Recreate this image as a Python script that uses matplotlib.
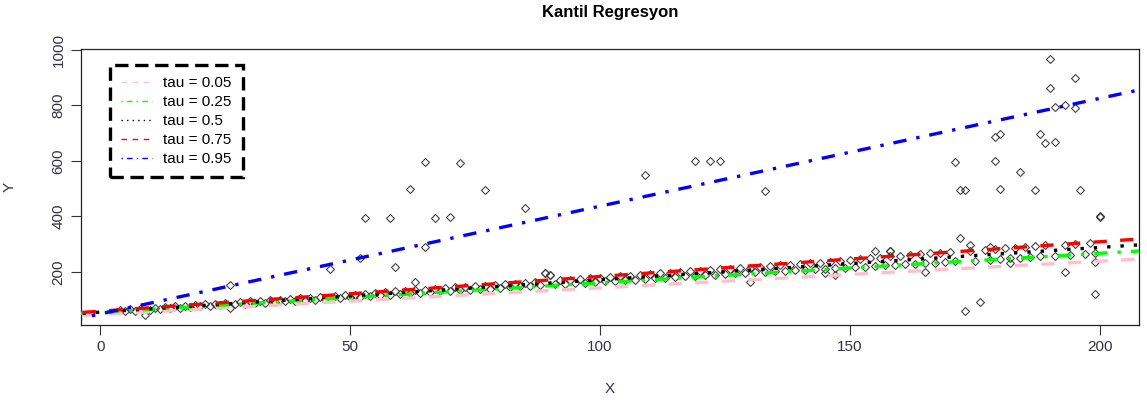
import matplotlib
matplotlib.use("Agg")
import matplotlib.pyplot as plt
from matplotlib.lines import Line2D
import numpy as np

plt.rcParams['font.family'] = ['Liberation Sans', 'DejaVu Sans']

# ---- data ----
band_x = [4, 5, 6, 7, 8, 10, 11, 12, 13, 14, 15, 16, 17, 18, 19, 20, 21, 22, 23, 24, 25,
          27, 28, 29, 30, 31, 32, 33, 34, 35, 36, 37, 38, 39, 40, 41, 42, 43, 44, 45,
          47, 48, 49, 50, 51, 52, 53, 54, 55, 56, 57, 58, 59, 60, 61, 62, 63, 64, 65,
          66, 67, 68, 69, 70, 71, 72, 73, 74, 75, 76, 77, 78, 79, 80, 81, 82, 83, 84,
          85, 86, 87, 88, 89, 90, 91, 92, 93, 94, 95, 96, 97, 98, 99, 100, 101, 102,
          103, 104, 105, 106, 107, 108, 109, 110, 111, 112, 113, 114, 115, 116, 117,
          118, 119, 120, 121, 122, 123, 124, 125, 126, 127, 128, 129, 130, 131, 132,
          133, 134, 135, 136, 137, 138, 139, 140, 141, 142, 143, 144, 145, 146, 147,
          148, 149, 150, 151, 152, 153, 154, 155, 156, 157, 158, 159, 160, 161, 162,
          163, 164, 165, 166, 167, 168, 169, 170, 171, 174, 175, 177, 178, 179, 180,
          181, 182, 183, 184, 185, 186, 187, 188, 189, 191, 193, 194, 195, 197, 198, 199]
band_y = [62, 58, 66, 61, 68, 64, 71, 66, 74, 69, 77, 70, 79, 73, 81, 76, 84, 78, 86, 80, 88,
          84, 92, 86, 94, 88, 97, 90, 99, 92, 101, 95, 104, 97, 106, 99, 108, 101, 111, 103,
          114, 106, 117, 109, 119, 111, 122, 113, 125, 116, 127, 118, 130, 120, 132, 123, 135, 125, 137,
          127, 140, 130, 142, 131, 145, 134, 146, 136, 149, 138, 151, 140, 153, 143, 156, 145, 158, 148,
          160, 150, 163, 152, 195, 190, 158, 170, 156, 172, 160, 175, 162, 177, 165, 180, 166, 182,
          168, 185, 172, 187, 173, 190, 176, 192, 178, 195, 180, 197, 182, 200, 185,
          203, 187, 205, 189, 207, 190, 210, 193, 212, 195, 214, 196, 216, 199, 219,
          201, 221, 203, 224, 205, 226, 207, 229, 209, 231, 210, 234, 212, 237, 214,
          239, 216, 243, 218, 246, 219, 249, 222, 252, 224, 256, 226, 259, 228, 262,
          230, 265, 231, 268, 233, 270, 236, 272, 238, 275, 241, 279, 244, 282, 246,
          285, 249, 288, 251, 290, 253, 293, 256, 296, 259, 298, 262, 301, 265, 303, 268]

out_x = [9, 26, 26, 46, 52, 53, 58, 59, 62, 63, 65, 65, 67, 70, 72, 77, 85, 89, 90,
         109, 119, 122, 124, 130, 133, 145, 147, 155, 158, 158, 165, 171, 172, 172, 173,
         173, 174, 176, 178, 179, 179, 180, 180, 182, 184, 187, 188, 189, 190, 190, 191,
         191, 193, 193, 195, 195, 196, 199, 199, 200, 200]
out_y = [46, 153, 71, 212, 250, 395, 395, 217, 499, 163, 596, 289, 395, 399, 593, 495, 430, 197, 189,
         550, 599, 598, 598, 163, 493, 195, 189, 275, 277, 277, 200, 596, 322, 495, 59,
         495, 298, 93, 291, 685, 599, 697, 499, 232, 561, 495, 696, 665, 966, 863, 668,
         793, 802, 199, 897, 792, 495, 122, 235, 397, 400]

taus = ["0.05", "0.25", "0.5", "0.75", "0.95"]
intercepts = [47.0, 55.0, 55.5, 59.0, 49.0]
slopes = [0.96, 1.062, 1.165, 1.25, 3.88]
colors = ["#FFC0CB", "#00FF00", "#000000", "#FF0000", "#0000FF"]
dash_styles = [(0, (4, 4)), (0, (1, 3, 4, 3)), (0, (1, 3)), (0, (4, 4)), (0, (1, 3, 4, 3))]

x_all = np.array(band_x + out_x, dtype=float)
y_all = np.array(band_y + out_y, dtype=float)

# ---- figure ----
fig = plt.figure(figsize=(11.47, 4.03), dpi=100)
ax = fig.add_axes([81 / 1147, 1 - 325 / 403, (1139 - 81) / 1147, (325 - 49) / 403])

ax.plot(x_all, y_all, linestyle='none', marker='D', markersize=3.8,
        markerfacecolor='none', markeredgecolor='#3a3a3a', markeredgewidth=0.75, zorder=2)

xr = x_all.max() - x_all.min()
yr = y_all.max() - y_all.min()
xlim = (x_all.min() - 0.04 * xr, x_all.max() + 0.04 * xr)
ylim = (y_all.min() - 0.04 * yr, y_all.max() + 0.04 * yr)

xl = np.array([xlim[0] - 5, xlim[1] + 5])
handles = []
for tau, a, b, c, ls in zip(taus, intercepts, slopes, colors, dash_styles):
    ax.plot(xl, a + b * xl, color=c, linestyle=ls, linewidth=2.4, zorder=3,
            dash_capstyle='butt')
    handles.append(Line2D([0], [0], color=c, linestyle=ls, linewidth=1.0))

ax.set_xlim(*xlim)
ax.set_ylim(*ylim)

ax.set_xticks([0, 50, 100, 150, 200])
ax.set_yticks([200, 400, 600, 800, 1000])
ax.tick_params(axis='both', direction='out', length=7, width=0.8, labelsize=11,
               labelcolor='#333340', color='#333333', pad=4)
for lab in ax.get_yticklabels():
    lab.set_rotation(90)
    lab.set_va('center')
for sp in ax.spines.values():
    sp.set_linewidth(0.9)
    sp.set_color('#222222')

ax.set_xlabel("X", fontsize=11, color='#333340')
ax.set_ylabel("Y", fontsize=11, color='#333340')
ax.xaxis.set_label_coords((610 - 81) / 1058, -(382 - 325) / 276)
ax.yaxis.set_label_coords((17 - 81) / 1058, (325 - 187) / 276)
fig.text(610 / 1147, 1 - 13 / 403, "Kantil Regresyon", ha='center', va='center',
         fontsize=12, fontweight='bold')

leg = ax.legend(handles, ["tau = " + t for t in taus], loc='upper left',
                bbox_to_anchor=((110 - 81) / 1058, (325 - 65) / 276), borderaxespad=0,
                fontsize=11, frameon=True, fancybox=False, handlelength=2.0,
                handletextpad=0.75, labelspacing=0.32, borderpad=0.75)
fr = leg.get_frame()
fr.set_edgecolor('black')
fr.set_linewidth(2.4)
fr.set_linestyle((0, (4, 2)))
fr.set_facecolor('white')
fr.set_alpha(1)

fig.savefig("out.png", dpi=100)
